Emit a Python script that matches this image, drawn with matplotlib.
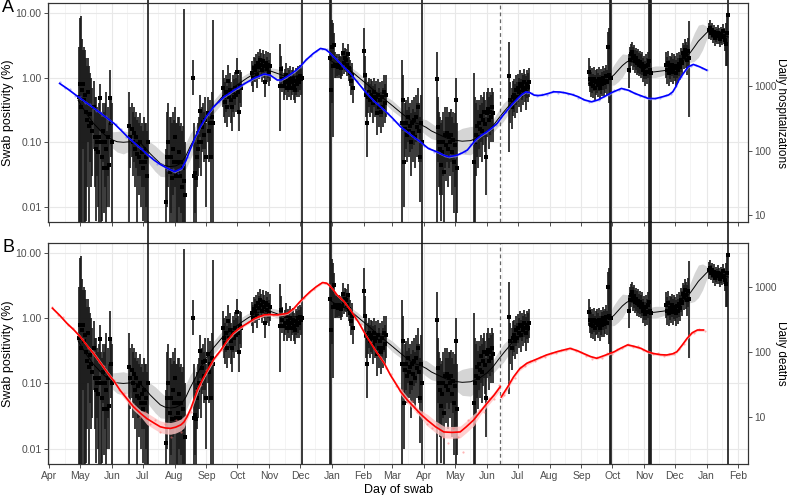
import numpy as np
import matplotlib
matplotlib.use('Agg')
import matplotlib.pyplot as plt
import matplotlib.dates as mdates
from matplotlib.lines import Line2D
from matplotlib.ticker import FixedLocator, FixedFormatter, NullLocator

plt.rcParams['font.family'] = ['Liberation Sans', 'DejaVu Sans']

t0 = np.datetime64('2020-04-01')

# Daily swab positivity (%) per round: first day, estimate, lower, upper

r01 = ('2020-04-30',
       [0.5, 0.8, 0.35, 0.65, 0.8, 0.45, 0.55, 0.3, 0.22, 0.6, 0.18, 0.27, 0.2, 0.15, 0.35, 0.12, 0.08,
        0.1, 0.07, 0.12, 0.48, 0.1, 0.06, 0.15, 0.04, 0.1, 0.08, 0.04, 0.12, 0.045, 0.48, 0.2, 0.1],
       [0.001, 0.001, 0.001, 0.005, 0.08, 0.001, 0.001, 0.006, 0.02, 0.1, 0.001, 0.05, 0.02, 0.03, 0.08, 0.02, 0.006,
        0.03, 0.01, 0.001, 0.15, 0.001, 0.006, 0.05, 0.008, 0.02, 0.001, 0.01, 0.03, 0.01, 0.12, 0.06, 0.001],
       [3, 8.5, 9, 4, 2.7, 3, 2.7, 2, 1.5, 2, 1.5, 1.2, 1, 0.7, 0.9, 0.5, 0.5,
        0.35, 0.3, 0.4, 0.8, 0.3, 0.25, 0.4, 0.3, 0.4, 0.6, 0.15, 0.35, 0.2, 1.3, 0.5, 0.4])
r02 = ('2020-06-18',
       [0.18, 0.12, 0.16, 0.1, 0.14, 0.08, 0.12, 0.065, 0.09, 0.06, 0.1, 0.05, 0.07, 0.04, 0.08, 0.05, 0.06, 0.03, 0.1],
       [0.001, 0.04, 0.06, 0.03, 0.05, 0.02, 0.04, 0.001, 0.03, 0.015, 0.03, 0.01, 0.02, 0.006, 0.02, 0.001, 0.01, 0.001, 0.0001],
       [0.6, 0.35, 0.4, 0.3, 0.35, 0.25, 0.3, 0.22, 0.25, 0.2, 0.28, 0.18, 0.2, 0.15, 0.25, 0.2, 0.2, 0.15, 1e4])
r03 = ('2020-07-24',
       [0.012, 0.06, 0.1, 0.035, 0.06, 0.028, 0.08, 0.05, 0.12, 0.03, 0.05, 0.035, 0.07, 0.03, 0.05, 0.02, 0.04, 0.025, 0.015],
       [0.001, 0.01, 0.02, 0.001, 0.008, 0.001, 0.015, 0.001, 0.02, 0.001, 0.005, 0.001, 0.01, 0.001, 0.008, 0.001, 0.001, 0.001, 0.001],
       [0.08, 0.3, 0.4, 0.25, 0.25, 0.2, 0.3, 0.22, 0.35, 0.2, 0.2, 0.25, 0.25, 0.18, 0.2, 0.15, 0.18, 11.5, 0.1])
r04 = ('2020-08-19',
       [1.0, 0.03, 0.033, 0.028, 0.06, 0.08, 0.1, 0.31, 0.1, 0.17, 0.21, 0.13, 0.22, 0.06, 0.28, 0.15, 0.2, 0.06, 0.25, 0.2],
       [0.55, 0.001, 0.008, 0.005, 0.02, 0.03, 0.04, 0.12, 0.03, 0.07, 0.08, 0.05, 0.08, 0.01, 0.1, 0.05, 0.06, 0.005, 0.06, 0.001],
       [1.9, 0.2, 0.12, 0.1, 0.15, 0.2, 0.25, 0.55, 0.3, 0.35, 0.4, 0.3, 0.5, 0.2, 0.5, 0.3, 0.45, 0.3, 0.6, 7.8])
r05 = ('2020-09-17',
       [0.7, 0.5, 0.42, 0.6, 0.35, 0.9, 0.5, 0.65, 0.45, 0.35, 0.6, 0.5, 0.7, 0.55, 1.25, 0.6, 0.3, 0.75, 0.7],
       [0.35, 0.25, 0.2, 0.3, 0.17, 0.5, 0.25, 0.35, 0.2, 0.15, 0.3, 0.25, 0.38, 0.3, 0.6, 0.3, 0.15, 0.4, 0.35],
       [1.3, 1.0, 0.85, 1.1, 0.75, 1.6, 0.95, 1.2, 0.85, 0.7, 1.1, 0.95, 1.25, 1.0, 2.0, 1.1, 0.6, 1.3, 1.25])
r06 = ('2020-10-15',
       [1.2, 1.0, 1.4, 1.3, 1.55, 1.1, 1.7, 1.45, 1.9, 1.6, 1.3, 1.8, 1.5, 0.85, 1.7, 1.35, 1.6, 1.2, 1.5],
       [0.75, 0.6, 0.9, 0.85, 1.0, 0.7, 1.15, 0.95, 1.3, 1.05, 0.85, 1.2, 1.0, 0.5, 1.1, 0.85, 1.0, 0.75, 0.9],
       [1.8, 1.6, 2.1, 2.0, 2.3, 1.7, 2.5, 2.2, 2.8, 2.4, 2.0, 2.7, 2.3, 1.4, 2.6, 2.1, 2.5, 1.9, 2.4])
r07 = ('2020-11-12',
       [0.75, 1.35, 0.95, 0.75, 0.85, 1.1, 0.7, 0.9, 0.8, 1.0, 0.7, 0.85, 0.95, 0.75, 0.65, 0.9, 0.8, 1.0, 0.85, 1.05, 0.95, 1.0],
       [0.15, 0.8, 0.6, 0.45, 0.55, 0.7, 0.45, 0.6, 0.5, 0.65, 0.45, 0.55, 0.6, 0.45, 0.4, 0.55, 0.5, 0.6, 0.5, 0.65, 0.55, 0.0001],
       [3.4, 2.2, 1.5, 1.2, 1.35, 1.7, 1.1, 1.4, 1.3, 1.55, 1.1, 1.3, 1.45, 1.2, 1.05, 1.4, 1.3, 1.55, 1.35, 1.6, 1.5, 1e4])
r08 = ('2020-12-30',
       [2.0, 0.65, 3.0, 1.5, 3.2, 1.6, 1.5, 1.55, 1.45, 1.6, 1.5, 1.4, 1.55, 2.4, 1.7, 2.0, 1.9, 1.6, 2.3, 1.4, 1.2, 0.9, 1.1, 0.7],
       [0.0001, 0.0001, 0.4, 0.12, 1.7, 1.0, 1.0, 1.05, 1.0, 1.1, 1.0, 0.95, 1.05, 1.6, 1.15, 1.3, 1.25, 1.05, 1.5, 0.9, 0.75, 0.55, 0.7, 0.4],
       [1e4, 1e4, 8.0, 7.0, 5.0, 2.5, 2.2, 2.3, 2.1, 2.3, 2.2, 2.1, 2.3, 3.5, 2.5, 2.9, 2.8, 2.4, 3.3, 2.1, 1.9, 1.45, 1.7, 1.2])
r09 = ('2021-02-01',
       [2.6, 1.1, 0.55, 0.2, 0.5, 0.6, 0.45, 0.55, 0.5, 0.4, 0.6, 0.45, 0.5, 0.28, 0.55, 0.35, 0.45, 0.3, 0.5, 0.35, 0.6, 0.4, 0.55],
       [1.0, 0.5, 0.25, 0.06, 0.28, 0.35, 0.25, 0.3, 0.28, 0.2, 0.35, 0.25, 0.28, 0.13, 0.3, 0.17, 0.25, 0.14, 0.25, 0.17, 0.3, 0.2, 0.25],
       [6.0, 2.2, 1.1, 0.5, 0.85, 1.0, 0.8, 0.95, 0.9, 0.75, 1.0, 0.8, 0.9, 0.6, 0.95, 0.7, 0.85, 0.6, 0.9, 0.7, 1.1, 0.8, 1.1])
r10 = ('2021-03-10',
       [0.2, 0.45, 0.05, 0.16, 0.2, 0.13, 0.25, 0.15, 0.18, 0.1, 0.2, 0.14, 0.22, 0.12, 0.25, 0.17, 0.35, 0.15, 0.06, 0.2, 0.1],
       [0.001, 0.15, 0.01, 0.06, 0.08, 0.05, 0.1, 0.06, 0.07, 0.03, 0.08, 0.05, 0.09, 0.04, 0.1, 0.06, 0.15, 0.05, 0.012, 0.05, 0.0001],
       [1.9, 1.1, 0.2, 0.4, 0.45, 0.32, 0.5, 0.35, 0.4, 0.28, 0.45, 0.33, 0.5, 0.3, 0.55, 0.4, 0.7, 0.4, 0.25, 0.55, 1e4])
r11 = ('2021-04-13',
       [0.95, 0.17, 0.1, 0.08, 0.045, 0.07, 0.1, 0.035, 0.13, 0.09, 0.14, 0.08, 0.12, 0.1, 0.13, 0.07, 0.11, 0.05, 0.09, 0.45, 0.04],
       [0.001, 0.05, 0.02, 0.015, 0.006, 0.015, 0.03, 0.005, 0.04, 0.025, 0.05, 0.02, 0.04, 0.03, 0.05, 0.015, 0.035, 0.008, 0.02, 0.001, 0.008],
       [2.5, 0.5, 0.3, 0.25, 0.2, 0.22, 0.3, 0.15, 0.35, 0.25, 0.35, 0.25, 0.3, 0.3, 0.33, 0.25, 0.3, 0.2, 0.28, 1.0, 0.2])
r12 = ('2021-05-19',
       [0.05, 0.1, 0.13, 0.18, 0.12, 0.2, 0.16, 0.26, 0.15, 0.22, 0.3, 0.19, 0.06, 0.28, 0.33, 0.22, 0.3, 0.25, 0.35, 0.28],
       [0.001, 0.001, 0.03, 0.06, 0.04, 0.08, 0.06, 0.1, 0.05, 0.09, 0.12, 0.07, 0.015, 0.12, 0.14, 0.08, 0.13, 0.1, 0.15, 0.1],
       [1.2, 0.5, 0.4, 0.45, 0.32, 0.45, 0.38, 0.55, 0.4, 0.5, 0.6, 0.45, 0.25, 0.6, 0.7, 0.5, 0.6, 0.55, 0.7, 0.6])
r13 = ('2021-06-23',
       [1.05, 0.45, 0.35, 0.5, 0.55, 0.45, 0.65, 0.5, 0.7, 0.6, 0.8, 0.55, 0.75, 0.65, 0.85, 0.7, 0.6, 0.8, 0.72, 0.85],
       [0.07, 0.2, 0.16, 0.26, 0.3, 0.24, 0.38, 0.28, 0.42, 0.35, 0.5, 0.3, 0.45, 0.38, 0.52, 0.42, 0.32, 0.48, 0.42, 0.5],
       [3.6, 0.85, 0.7, 0.9, 0.95, 0.8, 1.1, 0.85, 1.15, 1.0, 1.3, 0.95, 1.2, 1.1, 1.35, 1.15, 1.05, 1.3, 1.2, 1.4])
r14 = ('2021-09-08',
       [1.25, 0.95, 0.8, 0.9, 0.75, 0.95, 0.7, 0.85, 0.9, 0.78, 0.95, 0.7, 0.88, 0.8, 1.0, 0.82, 0.9, 1.05, 0.85, 3.0, 1.1, 1.0, 1.0],
       [0.75, 0.6, 0.5, 0.58, 0.48, 0.62, 0.45, 0.55, 0.58, 0.5, 0.62, 0.45, 0.56, 0.52, 0.65, 0.52, 0.58, 0.68, 0.55, 1.05, 0.4, 0.0001, 0.0001],
       [2.0, 1.5, 1.25, 1.4, 1.15, 1.45, 1.1, 1.3, 1.38, 1.2, 1.45, 1.1, 1.35, 1.25, 1.5, 1.28, 1.4, 1.6, 1.3, 5.2, 6.0, 1e4, 1e4])
r15 = ('2021-10-17',
       [1.3, 1.9, 2.3, 2.5, 2.0, 2.2, 1.8, 2.0, 1.7, 1.85, 1.6, 1.75, 1.5, 1.65, 1.3, 1.45, 1.15, 1.5, 1.25, 1.6, 1.8, 1.3, 1.2],
       [0.7, 1.2, 1.5, 1.7, 1.3, 1.45, 1.2, 1.3, 1.1, 1.2, 1.05, 1.15, 1.0, 1.1, 0.85, 0.95, 0.75, 0.95, 0.8, 1.0, 0.0001, 0.0001, 0.0001],
       [2.3, 3.0, 3.4, 3.6, 3.0, 3.2, 2.7, 2.9, 2.6, 2.8, 2.4, 2.6, 2.3, 2.5, 2.0, 2.2, 1.8, 2.3, 2.0, 2.5, 1e4, 1e4, 1e4])
r16 = ('2021-11-22',
       [1.6, 1.3, 1.7, 1.2, 1.45, 1.35, 1.6, 1.25, 1.5, 1.4, 1.2, 1.55, 1.3, 1.65, 1.45, 1.9, 1.7, 2.4, 2.1, 2.7, 2.3, 1.9, 2.6, 2.0],
       [1.0, 0.8, 1.1, 0.75, 0.95, 0.85, 1.05, 0.8, 0.98, 0.9, 0.75, 1.0, 0.82, 1.05, 0.92, 1.25, 1.1, 1.6, 1.35, 1.8, 1.4, 1.1, 1.5, 0.25],
       [2.5, 2.1, 2.6, 1.9, 2.2, 2.1, 2.4, 1.95, 2.3, 2.15, 1.9, 2.4, 2.0, 2.55, 2.25, 2.9, 2.6, 3.5, 3.2, 4.0, 3.6, 3.2, 4.2, 7.5])
r17 = ('2022-01-03',
       [5.5, 6.0, 5.0, 5.5, 4.6, 5.2, 4.2, 4.8, 4.4, 5.0, 4.5, 4.0, 4.7, 4.3, 5.3, 4.5, 3.8, 3.4, 5.0, 9.4],
       [4.0, 4.6, 3.8, 4.2, 3.5, 4.0, 3.1, 3.6, 3.3, 3.8, 3.4, 3.0, 3.5, 3.2, 4.0, 3.3, 2.6, 1.5, 1.5, 0.0001],
       [7.2, 7.8, 6.5, 7.0, 6.0, 6.7, 5.6, 6.2, 5.8, 6.5, 5.9, 5.4, 6.1, 5.7, 6.9, 6.0, 5.4, 7.0, 9.0, 1e4])
rounds = [r01, r02, r03, r04, r05, r06, r07, r08, r09, r10, r11, r12, r13, r14, r15, r16, r17]

# Smoothed positivity (days since 1 Apr 2020), band half-width in log10 units
fitA_day = [28, 36, 43, 50, 56, 62, 66, 72, 79, 84, 89, 94, 98, 103, 108, 113, 118, 123, 128, 133, 137, 142,
            147, 153, 160, 168, 176, 184, 192, 200, 209, 215, 222, 228, 235, 240, 246]
fitA_val = [0.45, 0.28, 0.196, 0.15, 0.122, 0.108, 0.102, 0.1, 0.102, 0.1, 0.096, 0.08, 0.067, 0.056, 0.047,
            0.043, 0.042, 0.043, 0.047, 0.062, 0.085, 0.12, 0.174, 0.25, 0.355, 0.5, 0.645, 0.8, 0.98, 1.17,
            1.32, 1.28, 1.17, 1.08, 1.04, 1.06, 1.1]
fitA_w = [0.12, 0.08, 0.07, 0.07, 0.09, 0.13, 0.16, 0.18, 0.14, 0.1, 0.12, 0.15, 0.18, 0.2, 0.2, 0.17, 0.14,
          0.14, 0.16, 0.2, 0.2, 0.17, 0.13, 0.1, 0.1, 0.1, 0.08, 0.08, 0.07, 0.06, 0.05, 0.05, 0.07, 0.06,
          0.05, 0.05, 0.06]
fitB_day = [273, 280, 286, 292, 300, 309, 318, 326, 334, 342, 350, 356, 361, 367, 372, 378, 386, 394, 402,
            410, 418, 426, 432, 437, 442, 447, 452, 457, 462, 467]
fitB_val = [1.9, 1.6, 1.5, 1.35, 1.05, 0.8, 0.6, 0.47, 0.37, 0.29, 0.23, 0.2, 0.19, 0.17, 0.15, 0.135, 0.118,
            0.108, 0.104, 0.106, 0.118, 0.145, 0.18, 0.23, 0.29, 0.36, 0.45, 0.53, 0.6, 0.66]
fitB_w = [0.15, 0.07, 0.05, 0.05, 0.07, 0.06, 0.05, 0.06, 0.08, 0.07, 0.06, 0.07, 0.09, 0.12, 0.12, 0.1, 0.09,
          0.12, 0.2, 0.22, 0.18, 0.12, 0.1, 0.12, 0.14, 0.12, 0.08, 0.06, 0.06, 0.08]
fitC_day = [525, 530, 535, 540, 545, 550, 554, 558, 562, 566, 570, 575, 580, 585, 590, 595, 600, 606, 611,
            616, 620, 624, 628, 632, 636, 640, 644, 648, 652, 657, 661]
fitC_val = [0.82, 0.84, 0.86, 0.9, 0.96, 1.12, 1.32, 1.55, 1.75, 1.9, 1.7, 1.45, 1.25, 1.22, 1.24, 1.27, 1.3,
            1.4, 1.5, 1.75, 2.1, 2.45, 3.0, 3.7, 4.3, 5.0, 5.5, 5.3, 4.9, 4.5, 4.3]
fitC_w = [0.08, 0.05, 0.05, 0.05, 0.1, 0.16, 0.18, 0.18, 0.12, 0.06, 0.05, 0.05, 0.06, 0.08, 0.09, 0.08, 0.06,
          0.05, 0.05, 0.06, 0.08, 0.15, 0.22, 0.25, 0.2, 0.1, 0.05, 0.04, 0.04, 0.05, 0.08]
fits = [(fitA_day, fitA_val, fitA_w), (fitB_day, fitB_val, fitB_w), (fitC_day, fitC_val, fitC_w)]

# Daily hospitalizations: smooth and daily counts (every 5th day from day 10)
hosp_day = [10, 18, 28, 37, 46, 55, 63, 70, 76, 82, 89, 95, 102, 108, 115, 122, 129, 133, 137, 142, 147, 153,
            160, 170, 180, 190, 199, 209, 215, 222, 226, 231, 238, 244, 250, 257, 264, 269, 273, 277, 285, 293,
            301, 309, 317, 326, 334, 342, 352, 361, 369, 377, 384, 389, 397, 402, 407, 415, 420, 426, 431, 436,
            441, 446, 451, 456, 460, 464, 468, 472, 476, 480, 486, 491, 497, 502, 509, 515, 521, 528, 534, 540,
            548, 557, 564, 570, 577, 583, 590, 597, 603, 607, 610, 613, 617, 622, 627, 633, 640]
hosp_val = [1100, 900, 683, 540, 425, 330, 264, 205, 164, 135, 108, 88, 71, 61, 53, 47, 53, 70, 102, 160, 234,
            340, 478, 680, 867, 1090, 1316, 1535, 1480, 1240, 1250, 1394, 1650, 1990, 2550, 3210, 3840, 3700,
            3300, 2845, 2100, 1574, 1100, 771, 570, 425, 320, 234, 175, 137, 108, 96, 85, 80, 85, 92, 102, 146,
            170, 196, 225, 264, 340, 425, 530, 645, 740, 816, 790, 725, 715, 725, 770, 816, 810, 787, 740, 683,
            610, 571, 610, 683, 800, 920, 860, 771, 700, 645, 640, 683, 730, 816, 980, 1240, 1550, 1990, 2170,
            2000, 1770]
hosp_pts = [1150, 940, 900, 700, 690, 540, 520, 410, 400, 345, 270, 260, 215, 160, 150, 118, 110, 84, 80, 63,
            61, 50, 52, 45, 60, 80, 138, 190, 300, 360, 500, 560, 700, 750, 900, 950, 1130, 1180, 1380, 1400,
            1580, 1430, 1340, 1200, 1400, 1480, 1800, 2000, 2620, 2900, 3550, 3700, 3750, 2950, 2700, 2050,
            1800, 1400, 1200, 890, 770, 590, 550, 425, 380, 300, 265, 205, 192, 155, 145, 116, 110, 94, 93, 81,
            84, 80, 92, 95, 125, 140, 176, 185, 228, 247, 335, 392, 520, 600, 765, 790, 780, 700, 745, 740, 835,
            790, 815, 745, 750, 665, 640, 565, 600, 600, 700, 740, 865, 880, 915, 830, 790, 700, 690, 630, 655,
            655, 725, 755, 1000, 1360, 1850, 2050, 2150, 1900, 1800]

# Daily deaths: two fitted pieces with band half-width (log10) and daily counts (every 5th day from day 3)
death1_day = [3, 10, 17, 24, 30, 37, 43, 50, 56, 63, 69, 76, 82, 89, 95, 102, 108, 113, 118, 123, 128, 131, 134,
              138, 144, 149, 154, 160, 167, 173, 179, 186, 193, 200, 209, 215, 222, 227, 232, 238, 244, 249, 254,
              260, 266, 270, 272, 276, 280, 287, 293, 301, 309, 317, 326, 332, 339, 342, 348, 355, 361, 368, 376,
              384, 392, 400, 406, 413, 420, 426, 433, 439]
death1_val = [475, 370, 280, 220, 174, 125, 96, 68, 50, 36, 26, 19, 14.5, 11.5, 9.6, 8.2, 7.2, 6.9, 6.8, 7.1,
              7.7, 8.5, 10.2, 14, 26, 38, 53, 78, 108, 150, 196, 240, 280, 330, 375, 380, 375, 385, 398, 470, 600,
              720, 856, 1020, 1177, 1150, 1085, 930, 761, 600, 448, 290, 174, 110, 68, 45, 30, 25, 19, 14.5, 11.5,
              9.1, 7.2, 6.0, 5.9, 6.0, 7.2, 9.1, 12.5, 16.4, 22, 29.6]
death1_w = [.02, .02, .02, .02, .02, .02, .03, .03, .03, .03, .05, .05, .05, .05, .09, .09, .09, .09, .09, .09,
            .09, .09, .05, .05, .05, .03, .03, .03, .02, .02, .02, .02, .02, .02, .02, .02, .02, .02, .02, .02,
            .02, .02, .02, .02, .02, .02, .02, .02, .02, .02, .02, .02, .02, .02, .03, .03, .03, .05, .05, .05,
            .05, .09, .09, .09, .09, .09, .09, .09, .05, .05, .05, .05]
death2_day = [440, 446, 452, 458, 465, 474, 484, 495, 507, 514, 520, 527, 533, 541, 550, 556, 563, 569, 576, 582,
              588, 595, 601, 607, 611, 616, 621, 626, 631, 637]
death2_val = [20.6, 29, 42, 56, 68, 78, 91, 103, 115, 106, 96, 86, 81, 90, 102, 115, 130, 124, 115, 103, 96, 92,
              91, 95, 102, 128, 164, 200, 220, 220]
death2_w = [.05, .04, .03, .03, .03, .02, .02, .02, .02, .02, .02, .02, .02, .02, .02, .02, .02, .02, .02, .02,
            .02, .02, .02, .02, .02, .02, .02, .02, .02, .02]
death_pts = [490, 380, 345, 260, 235, 182, 158, 115, 100, 72, 61, 43, 38, 26, 24, 16, 15, 10, 12, 8,
             9, 6, 8, 5, 9, 6, 11, 12, 26, 32, 54, 66, 95, 107, 158, 180, 230, 245, 290, 305,
             355, 362, 390, 368, 388, 375, 425, 455, 595, 670, 855, 935, 1130, 1140, 1080, 820, 710, 560, 460, 330,
             270, 178, 146, 100, 84, 58, 46, 30, 26, 17, 18, 12, 12, 8, 7, 8, 5, 4, 7, 5,
             3, 9, 8, 13, 12, 20, 19, 31, 22, 36, 41, 60, 62, 74, 74, 86, 86, 98, 96, 110,
             107, 118, 103, 102, 88, 80, 84, 83, 96, 95, 112, 115, 135, 122, 124, 107, 106, 93, 96, 88,
             95, 93, 114, 135, 185, 200, 228, 214]


def as_dates(day_list):
    return t0 + np.array(day_list)


# Figure

fig = plt.figure(figsize=(7.87, 4.95), dpi=100)

axA = fig.add_axes([0.0614, 0.5515, 0.8887, 0.4418])
axB = fig.add_axes([0.0614, 0.0626, 0.8887, 0.4465])

xmin, xmax = np.datetime64('2020-03-31'), np.datetime64('2022-02-10')
ymin, ymax = 0.0058, 14.3
cut_date = np.datetime64('2021-06-14')
bar_col = '#1a1a1a'
bar_lw = 1.35

panels = [(axA, 1345., 'Daily hospitalizations', '#0000ff', '#5b5bff'),
          (axB, 333., 'Daily deaths', '#ff0000', '#ff6b6b')]

for ax, k, rlabel, col, ptcol in panels:

    ax.set_yscale('log')
    ax.set_xlim(xmin, xmax)
    ax.set_ylim(ymin, ymax)

    # grey band of the positivity fit
    for fd, fv, fw in fits:
        v = np.array(fv)
        w = np.array(fw)
        ax.fill_between(as_dates(fd), v / 10 ** w, v * 10 ** w, color='#d5d5d5', lw=0, zorder=2)

    # daily estimates with intervals
    for first, mid, lo, hi in rounds:
        d = np.datetime64(first) + np.arange(len(mid))
        ax.vlines(d, lo, hi, color=bar_col, lw=bar_lw, alpha=0.9, zorder=3)
        ax.plot(d, mid, 's', ms=2.3, color='black', mec='black', mew=0, zorder=4)
        if ax is axA:
            big = np.array(hi) > ymax
            if big.any():
                ax.vlines(d[big], ymax, 1e3, color=bar_col, lw=bar_lw, alpha=0.9, clip_on=False, zorder=3)

    for fd, fv, fw in fits:
        ax.plot(as_dates(fd), fv, color='black', lw=0.7, zorder=5)

    ax.axvline(cut_date, color='#666666', lw=0.9, ls=(0, (3, 2.5)), zorder=5)

    # axes style
    ax.yaxis.set_major_locator(FixedLocator([0.01, 0.1, 1, 10]))
    ax.yaxis.set_major_formatter(FixedFormatter(['0.01', '0.10', '1.00', '10.00']))
    ax.yaxis.set_minor_locator(NullLocator())
    ax.xaxis.set_major_locator(mdates.MonthLocator())
    ax.xaxis.set_major_formatter(mdates.DateFormatter('%b'))
    ax.xaxis.set_minor_locator(mdates.MonthLocator(bymonthday=16))
    ax.grid(True, which='major', color='#e8e8e8', lw=0.8)
    ax.grid(True, which='minor', axis='x', color='#f2f2f2', lw=0.6)
    ax.set_axisbelow(True)
    ax.tick_params(which='major', length=3, width=0.6, color='#333333', labelsize=7.5,
                   labelcolor='#4d4d4d', pad=2)
    ax.tick_params(which='minor', length=0)
    for s in ax.spines.values():
        s.set_color('#333333')
        s.set_linewidth(0.8)
    ax.set_ylabel('Swab positivity (%)', fontsize=9, va='center')
    ax.yaxis.set_label_coords(-0.0576, 0.5)

    # secondary axis with hospital data
    ax2 = ax.twinx()
    ax2.set_yscale('log')
    ax2.set_ylim(ymin * k, ymax * k)
    ax2.set_xlim(xmin, xmax)
    ax2.yaxis.set_major_locator(FixedLocator([10, 100, 1000]))
    ax2.yaxis.set_major_formatter(FixedFormatter(['10', '100', '1000']))
    ax2.yaxis.set_minor_locator(NullLocator())
    ax2.tick_params(which='major', length=3, width=0.6, color='#333333', labelsize=7.3,
                    labelcolor='#4d4d4d', pad=2)
    for s in ax2.spines.values():
        s.set_color('#333333')
        s.set_linewidth(0.8)
    ax2.set_ylabel(rlabel, fontsize=8.5, rotation=270, va='center', ha='center')
    ax2.yaxis.set_label_coords(1.0482, 0.5)

    if ax is axA:
        ax2.fill_between(as_dates(hosp_day), np.array(hosp_val) / 1.04, np.array(hosp_val) * 1.04,
                         color='#c8c8ff', lw=0, alpha=0.6)
        ax2.scatter(as_dates(np.arange(len(hosp_pts)) * 5 + 10), hosp_pts, s=2.5, color=ptcol,
                    alpha=0.45, lw=0)
        ax2.plot(as_dates(hosp_day), hosp_val, color=col, lw=1.2)
    else:
        for dd, dv, dw in [(death1_day, death1_val, death1_w), (death2_day, death2_val, death2_w)]:
            v = np.array(dv)
            w = np.array(dw)
            ax2.fill_between(as_dates(dd), v / 10 ** w, v * 10 ** w, color='#ffc4c4', lw=0, alpha=0.8)
        ax2.scatter(as_dates(np.arange(len(death_pts)) * 5 + 3), death_pts, s=2.5, color=ptcol,
                    alpha=0.5, lw=0)
        ax2.plot(as_dates(death1_day), death1_val, color=col, lw=1.2)
        ax2.plot(as_dates(death2_day), death2_val, color=col, lw=1.2)

axA.tick_params(labelbottom=False)
axB.set_xlabel('Day of swab', fontsize=9, labelpad=2)

# intervals that run off the top also cross the gap between the panels
fig.canvas.draw()
y_gap_lo = axB.get_position().y1
y_gap_hi = axA.get_position().y0
for first, mid, lo, hi in rounds:
    d = np.datetime64(first) + np.arange(len(mid))
    for di, l, h in zip(d, lo, hi):
        if h > ymax and l < ymin:
            xd = mdates.date2num(di)
            xf = fig.transFigure.inverted().transform(axA.transData.transform((xd, 1.0)))[0]
            fig.add_artist(Line2D([xf, xf], [y_gap_lo, y_gap_hi], transform=fig.transFigure,
                                  color=bar_col, lw=bar_lw, alpha=0.9))

fig.text(0.003, 0.984, 'A', fontsize=13, va='center', ha='left')
fig.text(0.003, 0.499, 'B', fontsize=13, va='center', ha='left')

fig.savefig('out.png', dpi=100)
